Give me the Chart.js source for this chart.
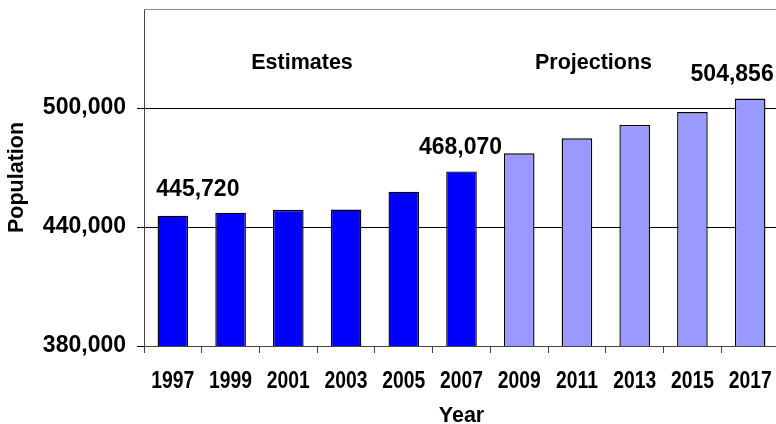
<!DOCTYPE html>
<html>
<head>
<meta charset="utf-8">
<script src="https://cdn.jsdelivr.net/npm/chart.js@4/dist/chart.umd.min.js"></script>
<style>
  html, body { margin: 0; padding: 0; overflow: hidden; background: #fff; }
  canvas { display: block; }
</style>
</head>
<body>
<canvas id="c" width="780" height="424"></canvas>
<script>
// Population by year: estimates (1997-2007) and projections (2009-2017)
const years = ['1997', '1999', '2001', '2003', '2005', '2007', '2009', '2011', '2013', '2015', '2017'];
const estimates = [445720, 447250, 448700, 448800, 457840, 468070];
const projections = [477220, 484790, 491500, 498050, 504856];
const yTicks = [380000, 440000, 500000];
const labelledYears = ['1997', '2007', '2017'];

const population = estimates.concat(projections);
const FONT = "'Liberation Sans', Arial, Helvetica, sans-serif";
const ESTIMATE_COLOR = '#0000FF';
const PROJECTION_COLOR = '#9999FF';
const barColors = population.map((v, i) => i < estimates.length ? ESTIMATE_COLOR : PROJECTION_COLOR);
const fmt = v => v.toLocaleString('en-US');

// offsets of the value callouts from the top centre of their bar
const calloutOffset = { '1997': [25, 20], '2007': [-1, 17], '2017': [-18, 17] };

const overlay = {
  id: 'overlay',
  afterDraw(chart) {
    const ctx = chart.ctx;
    const area = chart.chartArea;
    const xs = chart.scales.x;
    const ys = chart.scales.y;
    ctx.save();

    // top frame line
    ctx.strokeStyle = '#8c8c8c';
    ctx.lineWidth = 1;
    ctx.beginPath();
    ctx.moveTo(area.left, Math.round(area.top) + 0.5);
    ctx.lineTo(area.right + 2, Math.round(area.top) + 0.5);
    ctx.stroke();

    ctx.fillStyle = '#000';

    // year labels (narrow bold)
    ctx.font = 'bold 23px ' + FONT;
    ctx.textAlign = 'center';
    ctx.textBaseline = 'alphabetic';
    xs.ticks.forEach((t, i) => {
      const x = xs.getPixelForTick(i);
      ctx.save();
      ctx.translate(x, 388);
      ctx.scale(0.84, 1);
      ctx.fillText(years[i], 0, 0);
      ctx.restore();
    });

    // axis titles
    ctx.font = 'bold 21.5px ' + FONT;
    ctx.fillText('Year', (area.left + area.right) / 2, 421.5);
    ctx.save();
    ctx.translate(22.5, (area.top + area.bottom) / 2);
    ctx.rotate(-Math.PI / 2);
    ctx.fillText('Population', 0, 0);
    ctx.restore();

    // period headings
    ctx.fillText('Estimates', 302, 68.5);
    ctx.fillText('Projections', 593.5, 68.5);

    // value callouts
    ctx.font = 'bold 23px ' + FONT;
    labelledYears.forEach(yr => {
      const i = years.indexOf(yr);
      const v = population[i];
      const [dx, dy] = calloutOffset[yr];
      const x = xs.getPixelForValue(i) + dx;
      const y = ys.getPixelForValue(v) - dy;
      ctx.fillText(fmt(v), x, y);
    });

    ctx.restore();
  }
};

new Chart(document.getElementById('c'), {
  type: 'bar',
  data: {
    labels: years,
    datasets: [{
      label: 'Population',
      data: population,
      backgroundColor: barColors,
      borderColor: '#000',
      borderWidth: 1.4,
      barPercentage: 0.53,
      categoryPercentage: 1
    }]
  },
  options: {
    responsive: false,
    animation: false,
    devicePixelRatio: 1,
    layout: { padding: { top: 9, right: 1, left: 0, bottom: 0 } },
    plugins: { legend: { display: false }, tooltip: { enabled: false } },
    scales: {
      x: {
        grid: { offset: true, drawOnChartArea: false, drawTicks: true, tickLength: 7, color: '#444' },
        border: { color: '#444', width: 1 },
        ticks: { display: false },
        afterFit(s) { s.height = 78; s.paddingLeft = 0; s.paddingRight = 0; }
      },
      y: {
        min: 380000,
        max: 550000,
        afterBuildTicks(s) { s.ticks = yTicks.map(v => ({ value: v })); },
        grid: { color: '#000', tickLength: 7 },
        border: { color: '#444', width: 1 },
        ticks: {
          color: '#000',
          padding: 11,
          font: { family: FONT, size: 23, weight: 'bold' },
          callback: v => fmt(v)
        },
        afterFit(s) { s.width = 144; s.paddingTop = 0; s.paddingBottom = 0; }
      }
    }
  },
  plugins: [overlay]
});
</script>
</body>
</html>
